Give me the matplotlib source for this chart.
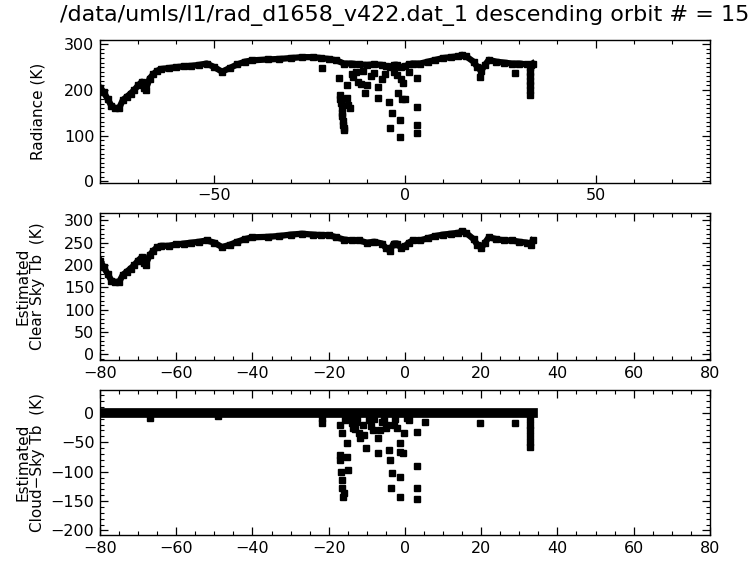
import matplotlib
matplotlib.use('Agg')
import matplotlib.pyplot as plt
from matplotlib.ticker import MultipleLocator

# ---- data ----
lat_base = [-80, -79, -78, -77, -76, -75, -74, -73, -72, -71, -70, -69, -68.5, -68, -67, -66, -65, -64,
            -62, -60, -58, -56, -54, -52, -50, -48, -46, -44, -42, -40, -36, -33, -30, -27, -24, -22,
            -20, -18, -16, -14, -12, -10, -8, -6, -5, -4, -3, -2, -1, 0, 1, 2, 4, 6, 8, 10, 12, 14, 15,
            16, 18, 19, 20, 21, 22, 24, 26, 28, 30, 32, 33, 33.5]
clear_tb = [210, 195, 180, 165, 162, 162, 178, 185, 192, 200, 210, 218, 205, 200, 222, 232, 240, 243,
            243, 246, 248, 250, 252, 255, 250, 240, 245, 252, 258, 262, 263, 265, 268, 270, 268, 267,
            267, 262, 257, 255, 255, 250, 252, 248, 238, 232, 248, 248, 238, 242, 250, 255, 255, 260, 265,
            268, 270, 272, 275, 272, 258, 245, 238, 250, 262, 258, 255, 255, 252, 250, 245, 255]
rad_base = [205, 195, 180, 165, 160, 160, 178, 185, 192, 200, 210, 218, 205, 200, 225, 235, 242, 246,
            248, 250, 252, 253, 255, 258, 250, 240, 248, 256, 262, 265, 267, 268, 270, 272, 272, 270,
            268, 265, 258, 258, 256, 255, 256, 255, 252, 250, 255, 255, 250, 252, 256, 258, 258, 262, 266,
            270, 272, 274, 277, 274, 262, 250, 242, 255, 266, 262, 260, 258, 258, 256, 255, 258]

rad_out_lat = [-21.8, -17.4, -17.0, -17.0, -16.8, -16.6, -16.5, -16.4, -16.3, -16.2, -16.1, -16.0,
               -15.3, -15.3, -15.0, -14.4, -12.2, -11.5, -10.5, -10.0, -7.0, -7.0, -4.3, -3.9, -3.5,
               -1.7, -1.3, -1.3, -0.8, -0.4, 0.0, 3.1, 3.1, 3.1, 3.1, 19.7, 28.9,
               32.8, 32.8, 32.8, 32.8, 32.8, 32.8, 32.8,
               -14.0, -12.8, -9.0, -8.2, -6.0, -5.2, -3.0, -2.2, -1.0, 1.0, -13.5, -11.0]
rad_out_val = [248, 226, 190, 180, 172, 160, 150, 142, 132, 124, 116, 112,
               211, 182, 168, 160, 218, 212, 193, 211, 207, 182, 174, 116, 149,
               193, 134, 97, 180, 215, 180, 226, 163, 123, 106, 229, 238,
               250, 240, 230, 220, 210, 200, 190,
               235, 240, 230, 238, 225, 235, 240, 232, 225, 240, 228, 242]

cld_out_lat = [-21.8, -21.8, -17.0, -17.0, -16.8, -16.6, -16.4, -16.2, -16.1, -17.0, -16.5,
               -15.3, -15.3, -15.0, -14.4, -13.5, -12.8, -12.0, -11.8, -11.0, -10.2, -9.5, -8.5,
               -7.0, -7.0, -6.0, -5.0, -4.3, -3.9, -3.7, -3.5, -3.0, -2.5, -1.3, -1.3, -1.3, -1.3,
               -0.4, -0.2, 1.0, 3.1, 3.1, 3.1, 3.1, 5.3, 19.7, 28.9, -67.0, -49.0,
               32.8, 32.8, 32.8, 32.8, 32.8, 32.8,
               -14.0, -13.0, -12.5, -9.0, -8.0, -6.5, -5.5, -4.8, -2.0, 0.5, -15.8, -10.8]
cld_out_val = [-9, -18, -72, -80, -100, -114, -128, -143, -136, -20, -34,
               -51, -75, -98, -10, -25, -15, -35, -43, -20, -60, -12, -30,
               -43, -68, -15, -25, -63, -80, -128, -103, -20, -10, -51, -67, -109, -143,
               -68, -34, -12, -32, -91, -128, -146, -15, -17, -17, -8, -5,
               -10, -20, -30, -40, -50, -58,
               -18, -28, -8, -22, -10, -30, -12, -20, -25, -8, -12, -38]
cld_base_lat = [-80, 33.5]
cld_base_val = [-1, -1]

title = "/data/umls/l1/rad_d1658_v422.dat_1 descending orbit # = 15"

# ---- figure ----
fig = plt.figure(figsize=(7.52, 5.61), dpi=100)
L, R = 0.133, 0.944
ax1 = fig.add_axes([L, 0.674, R - L, 0.255])
ax2 = fig.add_axes([L, 0.358, R - L, 0.262])
ax3 = fig.add_axes([L, 0.046, R - L, 0.259])

ms_line = 4.2
ms_pt = 3.8

ax1.plot(lat_base, rad_base, color='k', lw=4.5, marker='s', ms=ms_line)
ax1.plot(rad_out_lat, rad_out_val, 's', color='k', ms=ms_pt, ls='none')
ax2.plot(lat_base, clear_tb, color='k', lw=4.5, marker='s', ms=ms_line)
ax3.plot(cld_base_lat, cld_base_val, color='k', lw=7)
ax3.plot(cld_out_lat, cld_out_val, 's', color='k', ms=ms_pt, ls='none')

for ax in (ax1, ax2, ax3):
    ax.set_xlim(-80, 80)
    ax.tick_params(which='both', direction='in', top=True, right=True, labelsize=11.5, pad=4)
    ax.tick_params(which='major', length=6, width=0.9)
    ax.tick_params(which='minor', length=3, width=0.8)
    for s in ax.spines.values():
        s.set_linewidth(1.0)

ax1.set_ylim(-4, 310)
ax1.xaxis.set_major_locator(MultipleLocator(50))
ax1.xaxis.set_minor_locator(MultipleLocator(10))
ax1.yaxis.set_major_locator(MultipleLocator(100))
ax1.yaxis.set_minor_locator(MultipleLocator(10))

ax2.set_ylim(-13, 316)
ax2.xaxis.set_major_locator(MultipleLocator(20))
ax2.xaxis.set_minor_locator(MultipleLocator(5))
ax2.yaxis.set_major_locator(MultipleLocator(50))
ax2.yaxis.set_minor_locator(MultipleLocator(10))

ax3.set_ylim(-208, 39)
ax3.xaxis.set_major_locator(MultipleLocator(20))
ax3.xaxis.set_minor_locator(MultipleLocator(5))
ax3.yaxis.set_major_locator(MultipleLocator(50))
ax3.yaxis.set_minor_locator(MultipleLocator(10))

ax1.set_ylabel("Radiance (K)", fontsize=11)
ax2.set_ylabel("Estimated\nClear Sky Tb  (K)", fontsize=11, linespacing=0.95)
ax3.set_ylabel("Estimated\nCloud\u2212Sky Tb  (K)", fontsize=11, linespacing=0.95)
for ax in (ax1, ax2, ax3):
    ax.yaxis.set_label_coords(-0.09, 0.5)

fig.text((L + R) / 2, 0.972, title, ha='center', va='center', fontsize=16)

fig.savefig('out.png', dpi=100)
